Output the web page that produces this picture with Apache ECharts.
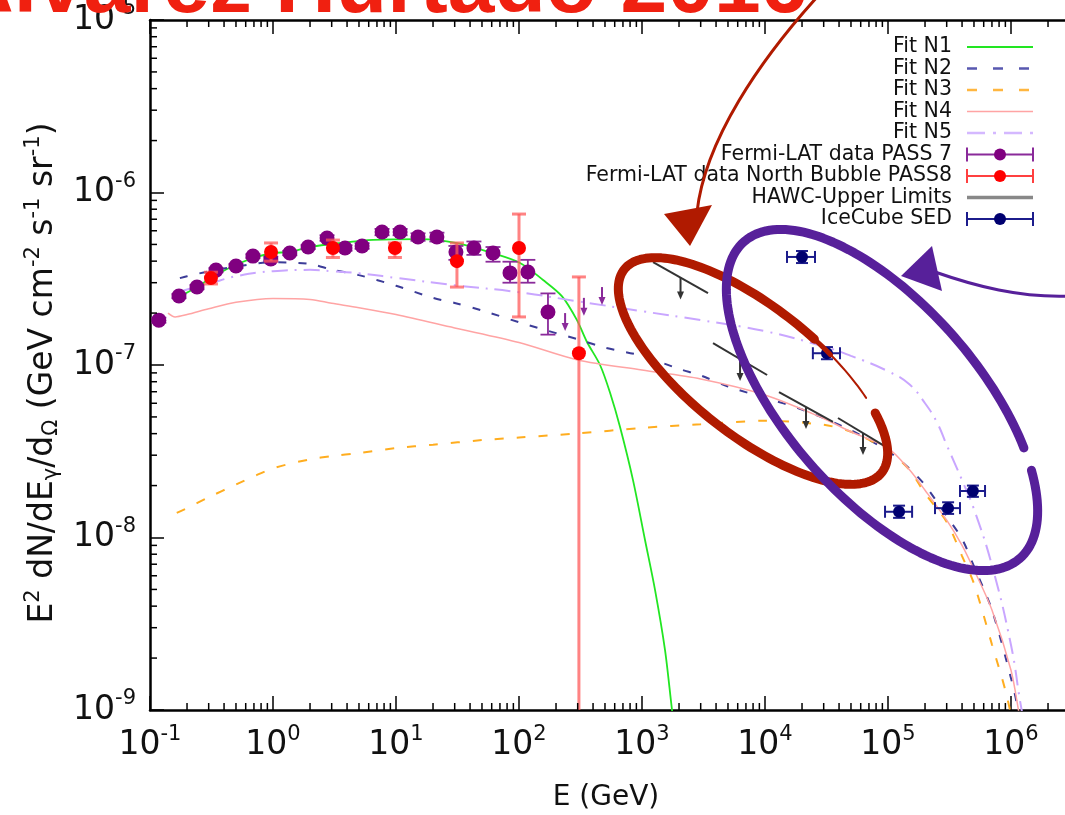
<!DOCTYPE html>
<html>
<head>
<meta charset="utf-8">
<script src="https://cdn.jsdelivr.net/npm/echarts@6.0.0/dist/echarts.min.js"></script>
<style>
  html, body { margin: 0; padding: 0; background: #fff; }
  #chart { width: 1065px; height: 815px; }
</style>
</head>
<body>
<div id="chart"></div>
<script>
// ---------------- data ----------------
// model fits (E in GeV, E^2 dN/dE in GeV cm^-2 s^-1 sr^-1)
const fitN1E = [0.185, 0.241, 0.344, 0.54, 0.741, 1.0, 1.37, 2.0, 3.51, 6.5, 15.7, 31.3, 60.3, 102, 157, 224, 296, 357, 456, 550, 662, 845, 1057, 1276, 1538, 1754, 1888];
const fitN1F = [2.55e-7, 2.83e-7, 3.33e-7, 3.9e-7, 4.23e-7, 4.46e-7, 4.52e-7, 4.83e-7, 5.09e-7, 5.31e-7, 5.37e-7, 5.09e-7, 4.46e-7, 3.9e-7, 3.11e-7, 2.5e-7, 1.82e-7, 1.36e-7, 1.0e-7, 6.9e-8, 4.38e-8, 2.15e-8, 9.7e-9, 4.97e-9, 2.23e-9, 1.0e-9, 6.7e-10];

const fitN2E = [0.175, 0.2, 0.3, 0.5, 1, 2, 3, 5, 10, 20, 30, 50, 100, 200, 300, 500, 1000, 2000, 3000, 5000, 1e4, 2e4, 5e4, 1e5, 1.5e5, 2e5, 3e5, 4e5, 5e5, 7e5, 1e6, 1.14e6, 1.3e6];
const fitN2F = [3.19e-7, 3.27e-7, 3.49e-7, 3.72e-7, 3.94e-7, 3.85e-7, 3.57e-7, 3.32e-7, 2.88e-7, 2.45e-7, 2.29e-7, 2.07e-7, 1.77e-7, 1.53e-7, 1.41e-7, 1.26e-7, 1.13e-7, 9.5e-8, 8.7e-8, 7.5e-8, 6.45e-8, 5.52e-8, 4.18e-8, 3.17e-8, 2.5e-8, 2.01e-8, 1.33e-8, 9.8e-9, 6.8e-9, 3.8e-9, 1.53e-9, 1.0e-9, 5e-10];

const fitN3E = [0.165, 0.2, 0.3, 0.5, 0.7, 1, 2, 3, 5, 10, 20, 50, 100, 300, 1000, 3000, 1e4, 3e4, 5e4, 1e5, 1.5e5, 2e5, 3e5, 4e5, 5e5, 7e5, 9e5, 1.05e6];
const fitN3F = [1.39e-8, 1.48e-8, 1.71e-8, 2.03e-8, 2.26e-8, 2.52e-8, 2.84e-8, 2.96e-8, 3.09e-8, 3.30e-8, 3.45e-8, 3.67e-8, 3.80e-8, 4.01e-8, 4.32e-8, 4.53e-8, 4.75e-8, 4.5e-8, 4.1e-8, 3.2e-8, 2.46e-8, 1.8e-8, 1.23e-8, 7.8e-9, 5.4e-9, 2.4e-9, 1.3e-9, 8e-10];

const fitN4E = [0.14, 0.16, 0.2, 0.3, 0.5, 1, 2, 3, 5, 10, 30, 100, 300, 1000, 3000, 1e4, 3e4, 5e4, 1e5, 1.5e5, 2e5, 3e5, 4e5, 5e5, 7e5, 1e6, 1.15e6, 1.3e6];
const fitN4F = [2.0e-7, 1.9e-7, 1.96e-7, 2.12e-7, 2.31e-7, 2.43e-7, 2.40e-7, 2.28e-7, 2.15e-7, 1.96e-7, 1.64e-7, 1.35e-7, 1.07e-7, 9.35e-8, 8.3e-8, 6.7e-8, 4.9e-8, 4.1e-8, 3.3e-8, 2.46e-8, 1.88e-8, 1.26e-8, 9.0e-9, 6.5e-9, 3.8e-9, 1.7e-9, 1.0e-9, 6e-10];

const fitN5E = [0.17, 0.2, 0.3, 0.5, 1, 2, 3, 5, 10, 30, 100, 300, 1000, 3000, 1e4, 3e4, 5e4, 1e5, 1.5e5, 2e5, 2.5e5, 3e5, 4e5, 5e5, 7e5, 1e6, 1.2e6, 1.4e6];
const fitN5F = [2.64e-7, 2.74e-7, 2.95e-7, 3.27e-7, 3.5e-7, 3.56e-7, 3.5e-7, 3.4e-7, 3.2e-7, 2.9e-7, 2.64e-7, 2.34e-7, 2.05e-7, 1.82e-7, 1.57e-7, 1.28e-7, 1.13e-7, 9.2e-8, 7.7e-8, 6.0e-8, 4.65e-8, 3.44e-8, 2.15e-8, 1.46e-8, 6.9e-9, 2.38e-9, 1.07e-9, 6e-10];

// Fermi-LAT PASS 7 spectrum
const pass7E  = [0.118, 0.172, 0.241, 0.344, 0.5, 0.687, 0.96, 1.37, 1.93, 2.75, 3.85, 5.3, 7.7, 10.8, 15.1, 21.5, 30.7, 43, 61.5, 84.5, 118, 172];
const pass7F  = [1.82e-7, 2.51e-7, 2.83e-7, 3.55e-7, 3.75e-7, 4.28e-7, 4.12e-7, 4.46e-7, 4.83e-7, 5.45e-7, 4.77e-7, 4.9e-7, 5.9e-7, 5.9e-7, 5.52e-7, 5.52e-7, 4.52e-7, 4.77e-7, 4.46e-7, 3.42e-7, 3.46e-7, 2.03e-7];
const pass7Lo = [1.76e-7, 2.44e-7, 2.75e-7, 3.45e-7, 3.65e-7, 4.17e-7, 4.0e-7, 4.33e-7, 4.7e-7, 5.25e-7, 4.6e-7, 4.72e-7, 5.65e-7, 5.65e-7, 5.25e-7, 5.2e-7, 4.07e-7, 4.35e-7, 3.97e-7, 3.0e-7, 3.0e-7, 1.5e-7];
const pass7Hi = [1.88e-7, 2.58e-7, 2.91e-7, 3.65e-7, 3.85e-7, 4.39e-7, 4.24e-7, 4.59e-7, 4.96e-7, 5.65e-7, 4.94e-7, 5.08e-7, 6.15e-7, 6.15e-7, 5.8e-7, 5.85e-7, 4.9e-7, 5.2e-7, 4.83e-7, 3.97e-7, 4.07e-7, 2.6e-7];
const pass7UlE = [237, 337, 473];
const pass7UlF = [2.0e-7, 2.45e-7, 2.83e-7];

// Fermi-LAT North Bubble PASS 8 spectrum
const pass8E  = [0.313, 0.964, 3.07, 9.8, 31.3, 100, 307];
const pass8F  = [3.19e-7, 4.52e-7, 4.77e-7, 4.77e-7, 4.0e-7, 4.77e-7, 1.17e-7];
const pass8Lo = [2.95e-7, 4.0e-7, 4.2e-7, 4.2e-7, 2.83e-7, 1.9e-7, 1e-10];
const pass8Hi = [3.45e-7, 5.1e-7, 5.3e-7, 5.1e-7, 5.1e-7, 7.5e-7, 3.24e-7];

// HAWC upper limits: each limit is a segment from (E1,F1) to (E2,F2)
const hawcE1 = [1.23e3, 3.78e3, 1.30e4, 3.92e4];
const hawcF1 = [3.95e-7, 1.34e-7, 6.97e-8, 4.93e-8];
const hawcE2 = [3.44e3, 1.04e4, 3.57e4, 1.0e5];
const hawcF2 = [2.61e-7, 8.75e-8, 4.68e-8, 3.30e-8];

// IceCube SED
const iceE   = [2.0e4, 3.19e4, 1.23e5, 3.08e5, 4.9e5];
const iceF   = [4.23e-7, 1.17e-7, 1.41e-8, 1.48e-8, 1.86e-8];
const iceELo = [1.51e4, 2.45e4, 9.46e4, 2.41e5, 3.85e5];
const iceEHi = [2.55e4, 4.07e4, 1.57e5, 3.85e5, 6.15e5];
const iceFLo = [3.9e-7, 1.08e-7, 1.30e-8, 1.37e-8, 1.72e-8];
const iceFHi = [4.58e-7, 1.27e-7, 1.53e-8, 1.60e-8, 2.0e-8];

// axis ranges
const xMin = 0.1, xMax = 1e7;
const yMin = 1e-9, yMax = 1e-5;

// ---------------- helpers ----------------
const FONT = 'DejaVu Sans';
const zip = (a, b) => a.map((v, i) => [v, b[i]]);

function superLabel(v) {
  const e = Math.round(Math.log10(v));
  return '10{sup|' + e + '}';
}

function arrowDown(x, y, len, color, width) {
  return [
    { type: 'line', shape: { x1: x, y1: y, x2: x, y2: y + len - 4 }, style: { stroke: color, lineWidth: width } },
    { type: 'polygon', shape: { points: [[x - 3.5, y + len - 8], [x + 3.5, y + len - 8], [x, y + len]] }, style: { fill: color } }
  ];
}

function errYRenderer(st) {
  return function (params, api) {
    const x = api.value(0);
    const c = api.coord([x, api.value(1)]);
    const lo = api.coord([x, api.value(2)]);
    const hi = api.coord([x, api.value(3)]);
    const hw = st.cap / 2;
    const bar = { stroke: st.bar, lineWidth: st.barWidth };
    return {
      type: 'group',
      children: [
        { type: 'line', shape: { x1: c[0], y1: lo[1], x2: c[0], y2: hi[1] }, style: bar },
        { type: 'line', shape: { x1: c[0] - hw, y1: lo[1], x2: c[0] + hw, y2: lo[1] }, style: bar },
        { type: 'line', shape: { x1: c[0] - hw, y1: hi[1], x2: c[0] + hw, y2: hi[1] }, style: bar },
        { type: 'circle', shape: { cx: c[0], cy: c[1], r: st.r }, style: { fill: st.dot } }
      ]
    };
  };
}

function ulRenderer(color) {
  return function (params, api) {
    const p = api.coord([api.value(0), api.value(1)]);
    return { type: 'group', children: arrowDown(p[0], p[1], 18, color, 2) };
  };
}

function hawcRenderer(params, api) {
  const a = api.coord([api.value(0), api.value(1)]);
  const b = api.coord([api.value(2), api.value(3)]);
  const mx = (a[0] + b[0]) / 2, my = (a[1] + b[1]) / 2;
  return {
    type: 'group',
    children: [
      { type: 'line', shape: { x1: a[0], y1: a[1], x2: b[0], y2: b[1] }, style: { stroke: '#333', lineWidth: 2 } }
    ].concat(arrowDown(mx, my, 22, '#333', 2))
  };
}

function iceRenderer(params, api) {
  const c = api.coord([api.value(0), api.value(1)]);
  const l = api.coord([api.value(2), api.value(1)]);
  const r = api.coord([api.value(3), api.value(1)]);
  const lo = api.coord([api.value(0), api.value(4)]);
  const hi = api.coord([api.value(0), api.value(5)]);
  const s = { stroke: '#1c1c8c', lineWidth: 2 };
  const cap = 6;
  return {
    type: 'group',
    children: [
      { type: 'line', shape: { x1: l[0], y1: c[1], x2: r[0], y2: c[1] }, style: s },
      { type: 'line', shape: { x1: l[0], y1: c[1] - cap, x2: l[0], y2: c[1] + cap }, style: s },
      { type: 'line', shape: { x1: r[0], y1: c[1] - cap, x2: r[0], y2: c[1] + cap }, style: s },
      { type: 'line', shape: { x1: c[0], y1: lo[1], x2: c[0], y2: hi[1] }, style: s },
      { type: 'line', shape: { x1: c[0] - cap, y1: lo[1], x2: c[0] + cap, y2: lo[1] }, style: s },
      { type: 'line', shape: { x1: c[0] - cap, y1: hi[1], x2: c[0] + cap, y2: hi[1] }, style: s },
      { type: 'circle', shape: { cx: c[0], cy: c[1], r: 6 }, style: { fill: '#000070' } }
    ]
  };
}

// logarithmic minor ticks (2..9 within each decade) on bottom, top and left frame edges
const minorXTicks = [];
for (let k = -1; k < 7; k++) for (let m = 2; m <= 9; m++) minorXTicks.push(m * Math.pow(10, k));
const minorYTicks = [];
for (let k = -9; k < -5; k++) for (let m = 2; m <= 9; m++) minorYTicks.push(m * Math.pow(10, k));

function minorTickRenderer(params, api) {
  const kind = api.value(2);
  const p = api.coord([api.value(0), api.value(1)]);
  const s = { stroke: '#000', lineWidth: 1.5 };
  if (kind === 0) return { type: 'line', shape: { x1: p[0], y1: p[1], x2: p[0], y2: p[1] - 7 }, style: s };
  if (kind === 1) return { type: 'line', shape: { x1: p[0], y1: p[1], x2: p[0], y2: p[1] + 7 }, style: s };
  return { type: 'line', shape: { x1: p[0], y1: p[1], x2: p[0] + 7, y2: p[1] }, style: s };
}
const minorTickData = []
  .concat(minorXTicks.map(v => [v, yMin, 0]))
  .concat(minorXTicks.map(v => [v, yMax, 1]))
  .concat(minorYTicks.map(v => [xMin, v, 2]));

// ---------------- series styles ----------------
const fits = [
  { name: 'Fit N1', E: fitN1E, F: fitN1F, color: '#22e622', width: 1.8, dash: 'solid', smooth: 0.3 },
  { name: 'Fit N2', E: fitN2E, F: fitN2F, color: '#3c3c98', width: 2, dash: [8, 12], smooth: 0.3 },
  { name: 'Fit N3', E: fitN3E, F: fitN3F, color: '#ffad1f', width: 2, dash: [9, 13], smooth: 0.3 },
  { name: 'Fit N4', E: fitN4E, F: fitN4F, color: '#ffa4a4', width: 1.5, dash: 'solid', smooth: 0.3 },
  { name: 'Fit N5', E: fitN5E, F: fitN5F, color: '#c9a6ff', width: 2, dash: [16, 7, 2, 7], smooth: 0.45 }
];

const series = [];
series.push({
  name: 'minor ticks', type: 'custom', renderItem: minorTickRenderer,
  data: minorTickData, encode: { x: 0, y: 1 }, clip: false, silent: true, z: 5
});
fits.forEach(f => {
  series.push({
    name: f.name, type: 'line', data: zip(f.E, f.F), showSymbol: false, symbol: 'none',
    smooth: f.smooth, clip: true,
    lineStyle: { color: f.color, width: f.width, type: f.dash }, z: 2
  });
});
series.push({
  name: 'HAWC-Upper Limits', type: 'custom', renderItem: hawcRenderer,
  data: hawcE1.map((e, i) => [e, hawcF1[i], hawcE2[i], hawcF2[i]]),
  encode: { x: [0, 2], y: [1, 3] }, clip: true, z: 3
});
series.push({
  name: 'Fermi-LAT data PASS 7', type: 'custom',
  renderItem: errYRenderer({ bar: '#8a2a9a', barWidth: 1.8, cap: 15, r: 7.5, dot: '#800080' }),
  data: pass7E.map((e, i) => [e, pass7F[i], pass7Lo[i], pass7Hi[i]]),
  encode: { x: 0, y: [1, 2, 3] }, clip: true, z: 4
});
series.push({
  name: 'Fermi-LAT PASS 7 limits', type: 'custom', renderItem: ulRenderer('#8a2a9a'),
  data: zip(pass7UlE, pass7UlF), encode: { x: 0, y: 1 }, clip: true, z: 4
});
series.push({
  name: 'Fermi-LAT data North Bubble PASS8', type: 'custom',
  renderItem: errYRenderer({ bar: 'rgba(255,90,90,0.75)', barWidth: 3, cap: 14, r: 7, dot: '#ff0000' }),
  data: pass8E.map((e, i) => [e, pass8F[i], pass8Lo[i], pass8Hi[i]]),
  encode: { x: 0, y: [1, 2, 3] }, clip: true, z: 4
});
series.push({
  name: 'IceCube SED', type: 'custom', renderItem: iceRenderer,
  data: iceE.map((e, i) => [e, iceF[i], iceELo[i], iceEHi[i], iceFLo[i], iceFHi[i]]),
  encode: { x: [0, 2, 3], y: [1, 4, 5] }, clip: true, z: 4
});

// ---------------- legend (gnuplot-style key, text right-aligned, sample on the right) ----------------
const keyRows = [
  { name: 'Fit N1', kind: 'line', color: '#22e622', width: 1.8, dash: null },
  { name: 'Fit N2', kind: 'line', color: '#5858b0', width: 2.5, dash: [10, 16] },
  { name: 'Fit N3', kind: 'line', color: '#ffb640', width: 2.5, dash: [10, 16] },
  { name: 'Fit N4', kind: 'line', color: '#ffa4a4', width: 1.5, dash: null },
  { name: 'Fit N5', kind: 'line', color: '#d4b8ff', width: 2.5, dash: [18, 8, 3, 8] },
  { name: 'Fermi-LAT data PASS 7', kind: 'err', color: '#8a2a9a', dot: '#800080' },
  { name: 'Fermi-LAT data North Bubble PASS8', kind: 'err', color: '#ff4040', dot: '#ff0000' },
  { name: 'HAWC-Upper Limits', kind: 'line', color: '#888', width: 3.5, dash: null },
  { name: 'IceCube SED', kind: 'err', color: '#1c1c8c', dot: '#000070' }
];
const keyTextRight = 952, keyX1 = 967, keyX2 = 1033, keyTop = 47, keyStep = 21.5;
const keyElements = [];
keyRows.forEach((row, i) => {
  const y = keyTop + i * keyStep;
  keyElements.push({
    type: 'text', x: keyTextRight, y: y,
    style: { text: row.name, align: 'right', verticalAlign: 'middle', fontSize: 20.5, fontFamily: FONT, fill: '#111' }
  });
  if (row.kind === 'line') {
    keyElements.push({
      type: 'line', shape: { x1: keyX1, y1: y, x2: keyX2, y2: y },
      style: { stroke: row.color, lineWidth: row.width, lineDash: row.dash || null }
    });
  } else {
    const st = { stroke: row.color, lineWidth: 2 };
    keyElements.push(
      { type: 'line', shape: { x1: keyX1, y1: y, x2: keyX2, y2: y }, style: st },
      { type: 'line', shape: { x1: keyX1, y1: y - 7, x2: keyX1, y2: y + 7 }, style: st },
      { type: 'line', shape: { x1: keyX2, y1: y - 7, x2: keyX2, y2: y + 7 }, style: st },
      { type: 'circle', shape: { cx: (keyX1 + keyX2) / 2, cy: y, r: 6 }, style: { fill: row.dot } }
    );
  }
});

// ---------------- hand-drawn annotations ----------------
function ellipsePoints(cx, cy, a, b, rotDeg, fromDeg, toDeg) {
  const pts = [];
  const r = rotDeg * Math.PI / 180;
  for (let t = fromDeg; t <= toDeg; t += 2) {
    const th = t * Math.PI / 180;
    const x = a * Math.cos(th), y = b * Math.sin(th);
    pts.push([cx + x * Math.cos(r) - y * Math.sin(r), cy + x * Math.sin(r) + y * Math.cos(r)]);
  }
  return pts;
}
const RED_INK = '#b01a00', PURPLE_INK = '#57209a';
const inkStyle = (color, w) => ({ stroke: color, lineWidth: w, fill: null, lineCap: 'round', lineJoin: 'round' });
const annotations = [
  // red loop: heavy stroke, thinning out where the pen lifts near the IceCube point
  { type: 'polyline', shape: { points: ellipsePoints(753, 371, 164, 64, 38.3, -42, 280) }, style: inkStyle(RED_INK, 9), z: 50 },
  { type: 'polyline', shape: { points: ellipsePoints(753, 371, 164, 64, 38.3, -82, -72) }, style: inkStyle(RED_INK, 5), z: 50 },
  { type: 'polyline', shape: { points: ellipsePoints(753, 371, 164, 64, 38.3, -72, -50) }, style: inkStyle(RED_INK, 2), z: 50 },
  { type: 'polyline', shape: { points: ellipsePoints(882, 400, 210, 96, 49, -44, 308) }, style: inkStyle(PURPLE_INK, 9), z: 50 },
  { type: 'bezierCurve', shape: { x1: 818, y1: -4, cpx1: 760, cpy1: 60, cpx2: 705, cpy2: 140, x2: 697, y2: 212 },
    style: { stroke: RED_INK, lineWidth: 3, fill: null }, z: 50 },
  { type: 'polygon', shape: { points: [[664, 214], [712, 205], [690, 246]] }, style: { fill: RED_INK }, z: 50 },
  { type: 'bezierCurve', shape: { x1: 1070, y1: 296, cpx1: 1020, cpy1: 298, cpx2: 975, cpy2: 286, x2: 935, y2: 272 },
    style: { stroke: PURPLE_INK, lineWidth: 3, fill: null }, z: 50 },
  { type: 'polygon', shape: { points: [[901, 276], [932, 246], [942, 291]] }, style: { fill: PURPLE_INK }, z: 50 },
  { type: 'text', x: -47, y: -11,
    style: { text: 'Alvarez Hurtado 2016', fontSize: 84, fontWeight: 'bold', fontFamily: 'Liberation Sans',
             fill: '#f02010', align: 'left', verticalAlign: 'middle' }, z: 60 }
];

// ---------------- chart ----------------
const tickLabelRich = { sup: { fontSize: 21, fontFamily: FONT, color: '#111', padding: [0, 0, 22, 0] } };

const chart = echarts.init(document.getElementById('chart'), null, { renderer: 'canvas' });
chart.setOption({
  animation: false,
  backgroundColor: '#fff',
  grid: { left: 150, top: 20, width: 984, height: 690, containLabel: false, outerBoundsMode: 'none' },
  xAxis: [
    {
      type: 'log', logBase: 10, min: xMin, max: xMax, position: 'bottom',
      axisLine: { lineStyle: { color: '#000', width: 2.5 } },
      axisTick: { inside: true, length: 14, lineStyle: { color: '#000', width: 1.5 } },
      axisLabel: { margin: 14, fontSize: 33, fontFamily: FONT, color: '#111', formatter: superLabel, rich: tickLabelRich },
      splitLine: { show: false },
      name: 'E (GeV)', nameLocation: 'middle', nameGap: 74,
      nameTextStyle: { fontSize: 28, fontFamily: FONT, color: '#111', padding: [0, 72, 0, 0] }
    },
    {
      type: 'log', logBase: 10, min: xMin, max: xMax, position: 'top',
      axisLine: { lineStyle: { color: '#000', width: 2.5 } },
      axisTick: { inside: true, length: 14, lineStyle: { color: '#000', width: 1.5 } },
      axisLabel: { show: false }, splitLine: { show: false }
    }
  ],
  yAxis: [
    {
      type: 'log', logBase: 10, min: yMin, max: yMax, position: 'left',
      axisLine: { lineStyle: { color: '#000', width: 2.5 } },
      axisTick: { inside: true, length: 14, lineStyle: { color: '#000', width: 1.5 } },
      axisLabel: { margin: 14, fontSize: 33, fontFamily: FONT, color: '#111', formatter: superLabel, rich: tickLabelRich },
      splitLine: { show: false },
      name: 'E{sup|2} dN/dE{sub|γ}/d{sub|Ω} (GeV cm{sup|-2} s{sup|-1} sr{sup|-1})',
      nameLocation: 'middle', nameGap: 86, nameRotate: 90,
      nameTextStyle: {
        fontSize: 33, fontFamily: FONT, color: '#111', padding: [0, 16, 0, 0],
        rich: {
          sup: { fontSize: 21, fontFamily: FONT, color: '#111', padding: [0, 0, 20, 0] },
          sub: { fontSize: 21, fontFamily: FONT, color: '#111', padding: [16, 0, 0, 0] }
        }
      }
    }
  ],
  series: series,
  graphic: { elements: keyElements.concat(annotations) }
});
</script>
</body>
</html>
